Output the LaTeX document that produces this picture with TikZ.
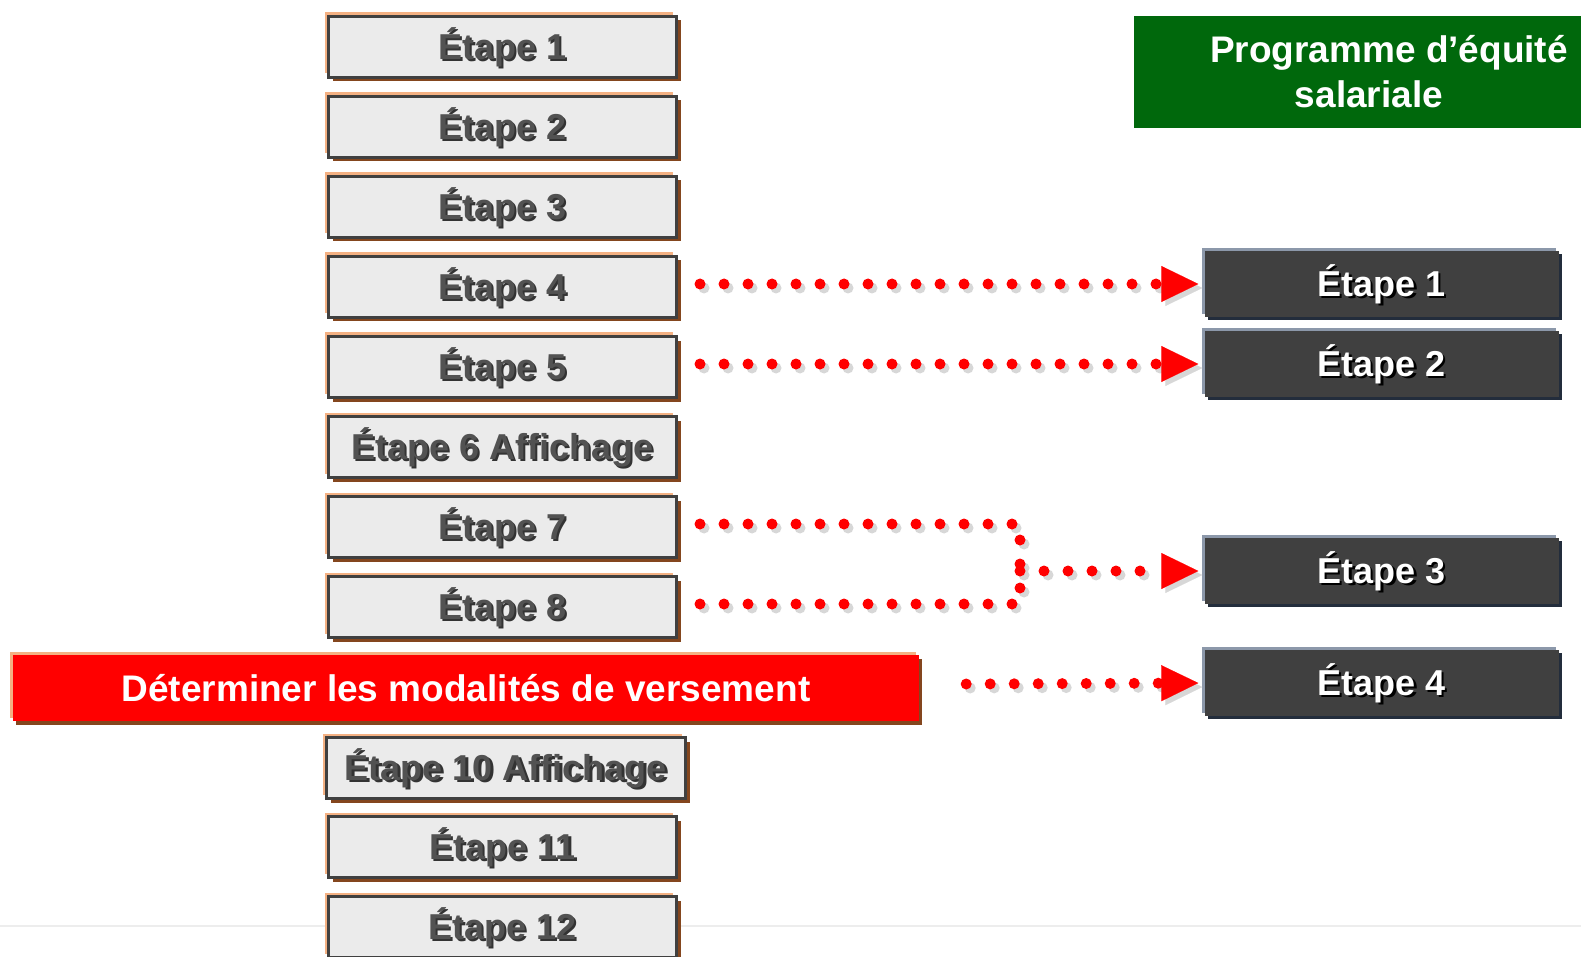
\documentclass[tikz,border=0pt]{standalone}
\usepackage{fontspec}
\setmainfont{Liberation Sans}
\usetikzlibrary{arrows.meta,shadows}
\definecolor{boxfill}{RGB}{235,235,235}
\definecolor{boxedge}{RGB}{64,64,64}
\definecolor{hilite}{RGB}{244,177,131}
\definecolor{brownsh}{RGB}{132,70,30}
\definecolor{darkfill}{RGB}{64,64,64}
\definecolor{darkhi}{RGB}{140,152,170}
\definecolor{darksh}{RGB}{35,45,60}
\definecolor{greenfill}{RGB}{0,104,12}
\definecolor{txtgray}{RGB}{82,82,82}
\definecolor{dotshade}{RGB}{215,215,215}
\newcommand{\shtxt}[2]{\makebox[0pt][l]{\hspace{2.5pt}\smash{\raisebox{-2.5pt}{\color{#2}#1}}}#1}
\newcommand{\dotconn}[2][]{%
  \draw[dotsh,#1,transform canvas={shift={(4pt,-4pt)}}] #2;
  \draw[dots,#1] #2;}
\tikzset{
  stepbox/.style={draw=boxedge, line width=3pt, fill=boxfill,
    minimum width=348pt, minimum height=61pt, inner sep=0pt, text=txtgray,
    font=\fontsize{36}{40}\selectfont\bfseries,
    general shadow={fill=hilite, shadow xshift=-4pt, shadow yshift=4pt},
    general shadow={fill=brownsh, shadow xshift=4pt, shadow yshift=-4pt}},
  darkbox/.style={fill=darkfill, minimum width=354pt, minimum height=66pt,
    inner sep=0pt, text=white, font=\fontsize{36}{40}\selectfont\bfseries,
    general shadow={fill=darkhi, shadow xshift=-3pt, shadow yshift=3pt},
    general shadow={fill=darksh, shadow xshift=3pt, shadow yshift=-3pt}},
  redbar/.style={fill=red, minimum width=906pt, minimum height=66pt,
    inner sep=0pt, text=white, font=\fontsize{37}{42}\selectfont\bfseries,
    general shadow={fill=hilite, shadow xshift=-3pt, shadow yshift=3pt},
    general shadow={fill=brownsh, shadow xshift=3pt, shadow yshift=-4pt}},
  greenbox/.style={fill=greenfill, minimum width=510pt, minimum height=112pt,
    inner sep=0pt, text=white, align=center,
    font=\fontsize{37}{45}\selectfont\bfseries},
  dots/.style={draw=red, line width=11pt, line cap=round,
    dash pattern=on 0pt off 24pt},
  dotsh/.style={draw=dotshade, line width=11pt, line cap=round,
    dash pattern=on 0pt off 24pt},
  tip/.style={-{Triangle[length=37pt,width=36pt,line width=0.1pt]}, shorten >=6pt},
}
\begin{document}
\begin{tikzpicture}[x=1pt,y=-1pt]
\useasboundingbox (0,0) rectangle (1581,957);
\clip (0,0) rectangle (1581,957);
\fill[white] (0,0) rectangle (1581,957);
\draw[black!7, line width=1.5pt] (0,926) -- (1581,926);

% left column
\node[stepbox] (b1) at (502.5,47) {\shtxt{Étape 1}{black!80}};
\node[stepbox] (b2) at (502.5,127) {\shtxt{Étape 2}{black!80}};
\node[stepbox] (b3) at (502.5,207) {\shtxt{Étape 3}{black!80}};
\node[stepbox] (b4) at (502.5,287) {\shtxt{Étape 4}{black!80}};
\node[stepbox] (b5) at (502.5,367) {\shtxt{Étape 5}{black!80}};
\node[stepbox] (b6) at (502.5,447) {\shtxt{Étape 6 Affichage}{black!80}};
\node[stepbox] (b7) at (502.5,527) {\shtxt{Étape 7}{black!80}};
\node[stepbox] (b8) at (502.5,607) {\shtxt{Étape 8}{black!80}};
\node[redbar] (red) at (466,688) {Déterminer les modalités de versement};
\node[stepbox, minimum width=359pt] (b10) at (506,768) {\shtxt{Étape 10 Affichage}{black!80}};
\node[stepbox] (b11) at (502.5,847) {\shtxt{Étape 11}{black!80}};
\node[stepbox] (b12) at (502.5,927) {\shtxt{Étape 12}{black!80}};

% right column
\node[greenbox] (prog) at (1389,72) {Programme d’équité\\salariale\hspace*{40pt}};
\node[darkbox] (r1) at (1381.5,284) {\shtxt{Étape 1}{black}};
\node[darkbox] (r2) at (1381.5,364) {\shtxt{Étape 2}{black}};
\node[darkbox] (r3) at (1381.5,571) {\shtxt{Étape 3}{black}};
\node[darkbox] (r4) at (1381.5,683) {\shtxt{Étape 4}{black}};

\coordinate (jm) at (1020,571);

% connectors
\dotconn[tip]{([shift={(22,-3)}]b4.east) -- (r1.west)}
\dotconn[tip]{([shift={(22,-3)}]b5.east) -- (r2.west)}
\dotconn{([shift={(22,-3)}]b7.east) -| (jm)}
\dotconn{([shift={(22,-3)}]b8.east) -| (jm)}
\dotconn[tip]{(jm) -- (r3.west)}
\dotconn[tip]{([shift={(47,-4)}]red.east) -- (r4.west)}
\end{tikzpicture}
\end{document}
